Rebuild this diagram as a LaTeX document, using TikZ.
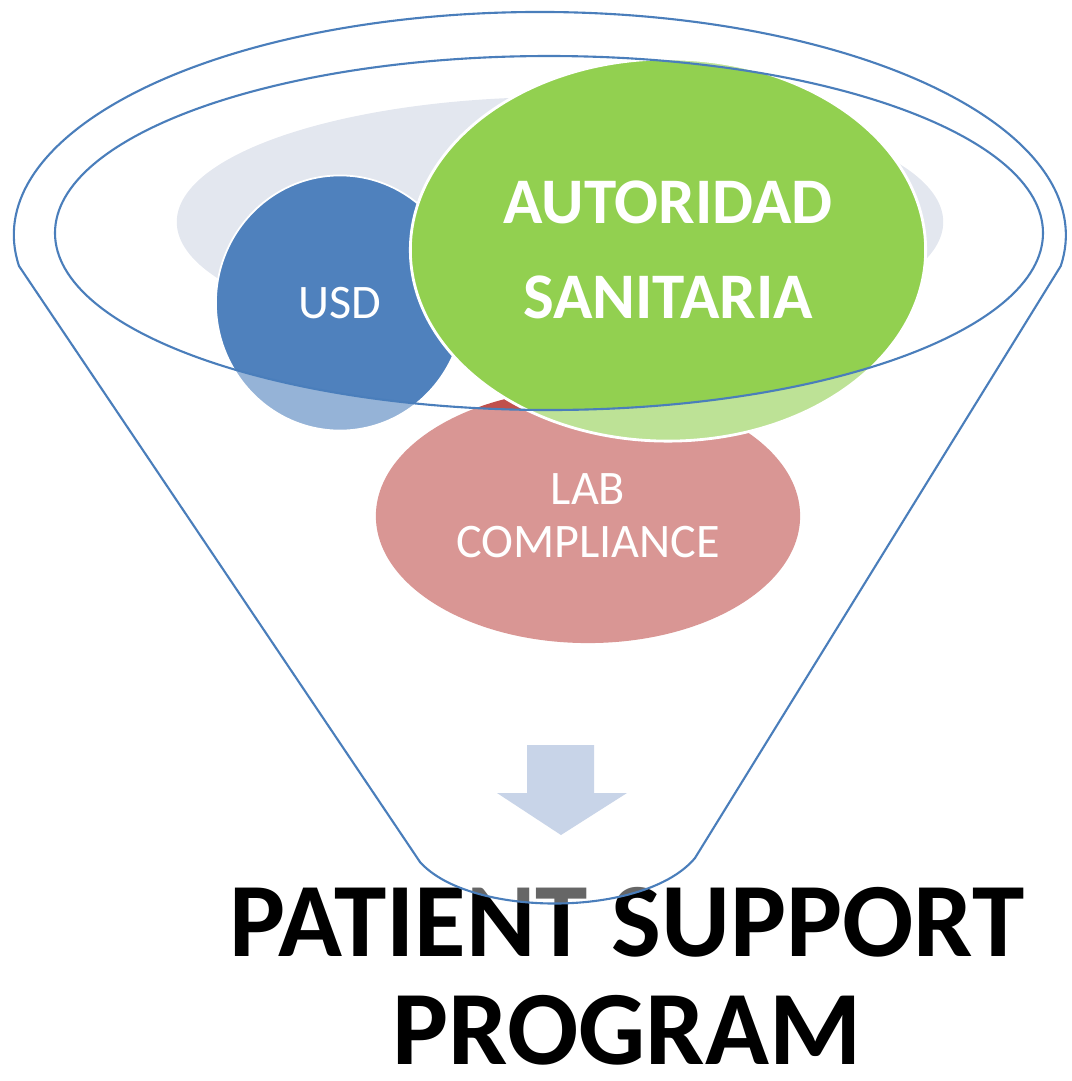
\documentclass[tikz,border=0pt]{standalone}
\usepackage{fontspec}
\setmainfont{Carlito}
\usepackage{xcolor}
\usetikzlibrary{shapes,positioning,calc}
\definecolor{usdblue}{HTML}{4F81BD}
\definecolor{authgreen}{HTML}{92D050}
\definecolor{labred}{HTML}{C0504D}
\definecolor{rimgray}{HTML}{E3E7EF}
\definecolor{funnelline}{HTML}{4A7EBB}
\definecolor{arrowblue}{HTML}{C8D4E8}
\begin{document}
\begin{tikzpicture}[x=0.01cm,y=-0.01cm,
  bubble/.style={ellipse,inner sep=0pt,text=white,align=center},
  funnel/.style={draw=funnelline,line width=0.6pt,fill=white,fill opacity=0.4,even odd rule}]
  \useasboundingbox (0,0) rectangle (1072,1081);
  \node[font=\bfseries\fontsize{30}{30.7}\selectfont,align=center,inner sep=0pt] (psp) at (627,976) {PATIENT SUPPORT\\PROGRAM};
  \node[ellipse,fill=rimgray,minimum width=7.66cm,minimum height=2.5cm] (backdrop) at (560,222) {};
  \node[bubble,fill=labred,minimum width=4.24cm,minimum height=2.54cm,
    font=\fontsize{13.7}{15}\selectfont] (lab) at (588,516) {LAB\\COMPLIANCE};
  \node[bubble,fill=usdblue,draw=white,line width=0.5pt,minimum width=2.48cm,minimum height=2.55cm,
    font=\fontsize{13.7}{15}\selectfont] (usd) at (340,303) {USD};
  \node[bubble,fill=authgreen,draw=white,line width=0.8pt,minimum width=5.15cm,minimum height=3.82cm,
    font=\bfseries\fontsize{18.5}{27}\selectfont] (auth) at (668,250) {AUTORIDAD\\SANITARIA};
  \draw[funnel] (19,266) arc[start angle=172,end angle=368,x radius=526,y radius=223]
    -- (695,858) .. controls (645,918) and (470,918) .. (420,862) -- cycle
    (549,233) ellipse [x radius=494,y radius=177];
  \fill[arrowblue] (527,745) -- (594,745) -- (594,793) -- (627,793) -- (561,835)
    -- (497,793) -- (527,793) -- cycle;
\end{tikzpicture}
\end{document}
